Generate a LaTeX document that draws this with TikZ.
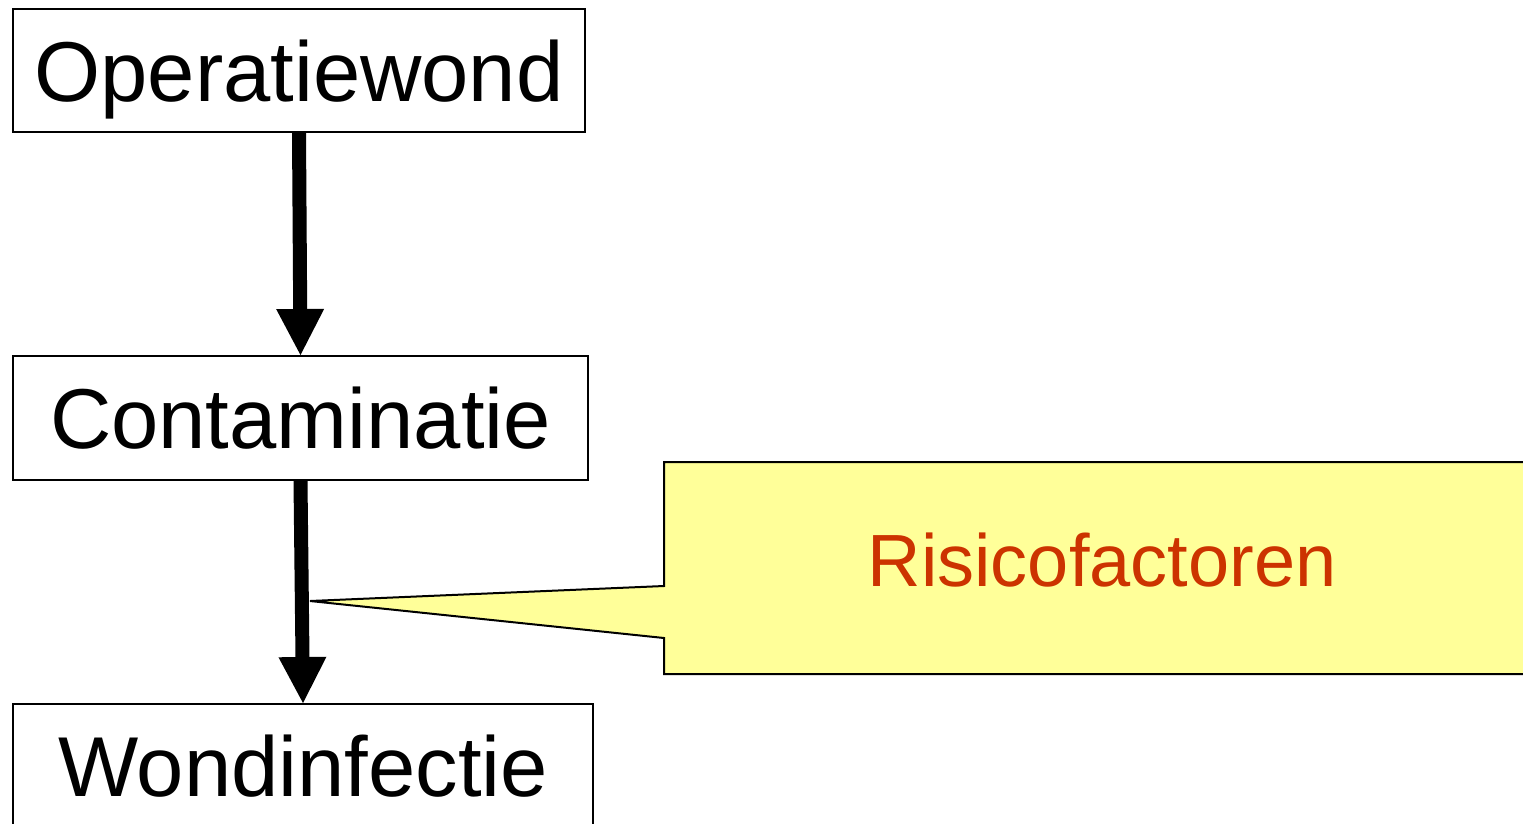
\documentclass[tikz,border=0pt]{standalone}
\usepackage{fontspec}
\setmainfont{Liberation Sans}
\usetikzlibrary{arrows.meta}
\definecolor{calloutfill}{HTML}{FFFF99}
\definecolor{callouttext}{HTML}{CC3300}
\begin{document}
\begin{tikzpicture}[x=1pt,y=-1pt,
  boxnode/.style={draw=black,line width=2pt,fill=white,inner sep=0pt,
    font=\fontsize{85}{100}\selectfont,text height=61pt,text depth=0pt},
  flowarrow/.style={line width=14pt,-{Triangle[width=48pt,length=46pt,line width=0pt]}}]
\useasboundingbox (0,0) rectangle (1523,823);
\clip (0,0) rectangle (1523,823);
\fill[white] (0,0) rectangle (1523,823);
\node[boxnode,minimum width=572pt,minimum height=123pt] (b1) at (299,70.5) {Operatiewond};
\node[boxnode,minimum width=575pt,minimum height=124pt] (b2) at (300.5,418) {Contaminatie};
\node[boxnode,minimum width=580pt,minimum height=124pt] (b3) at (303,766) {Wondinfectie};
\draw[flowarrow] (b1.south) -- (b2.north);
\draw[flowarrow] (b2.south) -- (b3.north);
\coordinate (tip) at (310,601);
\draw[line width=2pt,fill=calloutfill,line join=miter]
  (664,462) -- (1540,462) -- (1540,674) -- (664,674) -- (664,638) -- (tip) -- (664,586) -- cycle;
\node[text=callouttext,inner sep=0pt,font=\fontsize{74}{90}\selectfont,text height=53pt,text depth=0pt] (risk) at (1102,560) {Risicofactoren};
\end{tikzpicture}
\end{document}
